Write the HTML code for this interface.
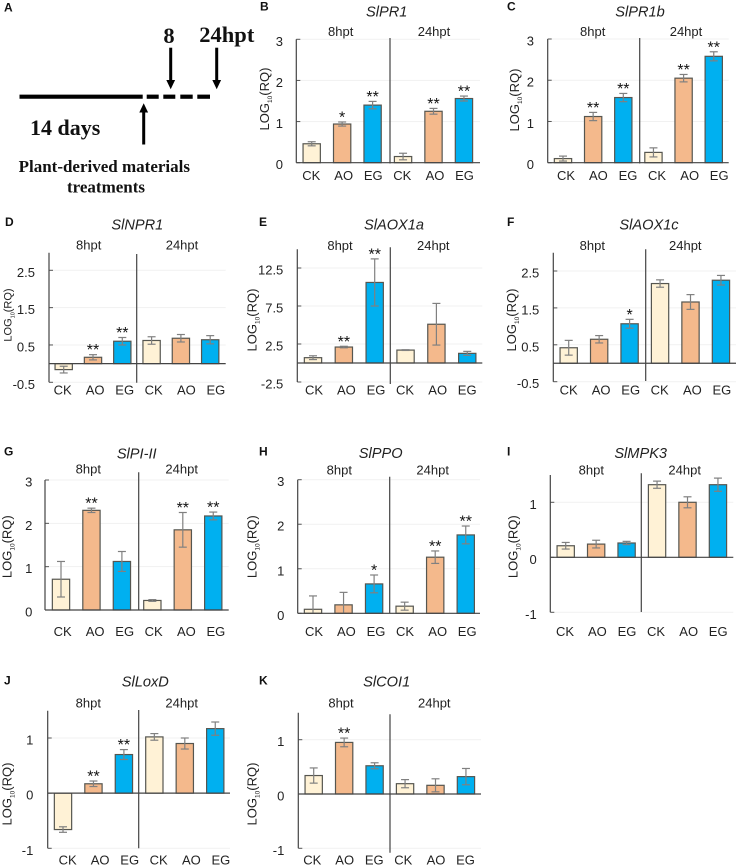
<!DOCTYPE html>
<html lang="en">
<head>
<meta charset="utf-8">
<title>Relative expression of defense genes after plant-derived material treatments</title>
<style>
  html, body { margin: 0; padding: 0; background: #ffffff; }
  svg { display: block; }
  text { font-family: "Liberation Sans", Arial, sans-serif; fill: #222222; }
  .serif { font-family: "Liberation Serif", "Times New Roman", serif; font-weight: bold; fill: #111111; }
  .letter { font-weight: bold; font-size: 12px; fill: #111111; }
  .title { font-style: italic; font-size: 14.6px; text-anchor: middle; }
  .hpt { font-size: 13px; text-anchor: middle; }
  .xlab { font-size: 13px; text-anchor: middle; }
  .ytick { font-size: 13px; text-anchor: end; }
  .ylab { text-anchor: middle; }
  .stars { font-size: 16px; text-anchor: middle; fill: #111111; }
</style>
</head>
<body>
<svg id="figure" xmlns="http://www.w3.org/2000/svg" width="738" height="866" viewBox="0 0 738 866">
  <rect x="0" y="0" width="738" height="866" fill="#ffffff"/>

  <g>
    <text class="letter" x="4" y="11.5">A</text>
    <line x1="19.5" y1="96.7" x2="142.7" y2="96.7" stroke="#000" stroke-width="4.2"/>
    <line x1="146.7" y1="96.7" x2="158.7" y2="96.7" stroke="#000" stroke-width="4.2"/>
    <line x1="163.3" y1="96.7" x2="175.3" y2="96.7" stroke="#000" stroke-width="4.2"/>
    <line x1="180.3" y1="96.7" x2="192.7" y2="96.7" stroke="#000" stroke-width="4.2"/>
    <line x1="197.3" y1="96.7" x2="210" y2="96.7" stroke="#000" stroke-width="4.2"/>
    <g>
      <line x1="170.7" y1="47.7" x2="170.7" y2="82" stroke="#000" stroke-width="3"/>
      <polygon points="166.3,80 175.1,80 170.7,89.3" fill="#000"/>
    </g>
    <g>
      <line x1="216.7" y1="47.7" x2="216.7" y2="82" stroke="#000" stroke-width="3"/>
      <polygon points="212.3,80 221.1,80 216.7,89.3" fill="#000"/>
    </g>
    <g>
      <line x1="143.7" y1="111" x2="143.7" y2="144.5" stroke="#000" stroke-width="3"/>
      <polygon points="139.3,112.5 148.1,112.5 143.7,103.3" fill="#000"/>
    </g>
    <text class="serif" x="169" y="43" font-size="22.5" text-anchor="middle">8</text>
    <text class="serif" x="199.3" y="42" font-size="22.5">24hpt</text>
    <text class="serif" x="30" y="135" font-size="22">14 days</text>
    <text class="serif" x="104.3" y="172" font-size="17" text-anchor="middle">Plant-derived materials</text>
    <text class="serif" x="106" y="192.3" font-size="17" text-anchor="middle">treatments</text>
  </g>

  <g id="panel-b"></g>
  <g id="panel-c"></g>
  <g id="panel-d"></g>
  <g id="panel-e"></g>
  <g id="panel-f"></g>
  <g id="panel-g"></g>
  <g id="panel-h"></g>
  <g id="panel-i"></g>
  <g id="panel-j"></g>
  <g id="panel-k"></g>
</svg>

<script>
// ---- chart data ----
const categories = ['CK', 'AO', 'EG', 'CK', 'AO', 'EG'];
const timeGroups = ['8hpt', '24hpt'];

const valuesB = [0.46, 0.94, 1.40, 0.15, 1.25, 1.56];
const errorsB = [0.05, 0.05, 0.09, 0.08, 0.07, 0.06];
const starsB = ['', '*', '**', '', '**', '**'];
const ticksB = [0, 1, 2, 3];

const valuesC = [0.10, 1.12, 1.58, 0.25, 2.05, 2.58];
const errorsC = [0.06, 0.10, 0.10, 0.11, 0.09, 0.11];
const starsC = ['', '**', '**', '', '**', '**'];
const ticksC = [0, 1, 2, 3];

const valuesD = [-0.16, 0.17, 0.60, 0.62, 0.68, 0.64];
const errorsD = [0.09, 0.07, 0.10, 0.10, 0.10, 0.11];
const starsD = ['', '**', '**', '', '', ''];
const ticksD = [-0.5, 0.5, 1.5, 2.5];

const valuesE = [0.70, 2.10, 10.6, 1.70, 5.10, 1.27];
const errorsE = [0.25, 0.10, 3.10, 0.05, 2.74, 0.26];
const starsE = ['', '**', '**', '', '', ''];
const ticksE = [-2.5, 2.5, 7.5, 12.5];

const valuesF = [0.42, 0.65, 1.07, 2.16, 1.66, 2.25];
const errorsF = [0.20, 0.10, 0.12, 0.10, 0.20, 0.13];
const starsF = ['', '', '*', '', '', ''];
const ticksF = [-0.5, 0.5, 1.5, 2.5];

const valuesG = [0.71, 2.30, 1.12, 0.22, 1.85, 2.17];
const errorsG = [0.41, 0.05, 0.23, 0.02, 0.40, 0.09];
const starsG = ['', '**', '', '', '**', '**'];
const ticksG = [0, 1, 2, 3];

const valuesH = [0.09, 0.19, 0.66, 0.16, 1.26, 1.76];
const errorsH = [0.30, 0.28, 0.20, 0.09, 0.14, 0.20];
const starsH = ['', '', '*', '', '**', '**'];
const ticksH = [0, 1, 2, 3];

const valuesI = [0.21, 0.24, 0.26, 1.32, 1.00, 1.32];
const errorsI = [0.06, 0.07, 0.03, 0.065, 0.10, 0.12];
const starsI = ['', '', '', '', '', ''];
const ticksI = [-1, 0, 1];

const valuesJ = [-0.66, 0.17, 0.70, 1.02, 0.90, 1.17];
const errorsJ = [0.05, 0.05, 0.09, 0.06, 0.10, 0.12];
const starsJ = ['', '**', '**', '', '', ''];
const ticksJ = [-1, 0, 1];

const valuesK = [0.34, 0.95, 0.52, 0.19, 0.16, 0.32];
const errorsK = [0.14, 0.08, 0.055, 0.075, 0.12, 0.15];
const starsK = ['', '**', '', '', '', ''];
const ticksK = [-1, 0, 1];

const groupColors = ['#fff2d6', '#f4b98c', '#00b0f0', '#fff2d6', '#f4b98c', '#00b0f0'];
const labelOffsets = [0, 32.4, 62, 91, 123.7, 153.2];

// ---- panel layouts (pixel geometry lives here, values above) ----
const panels = [
  { id: 'panel-b', letter: 'B', gene: 'SlPR1', values: valuesB, errors: errorsB, stars: starsB, ticks: ticksB,
    letterX: 260, letterY: 10.5, titleX: 386.7, titleY: 16.7, hptY: 36, hpt8X: 340.7, hpt24X: 434,
    axisX: 296.3, axisTop: 39.3, axisBottom: 162.7, pxLow: 162.7, pxHigh: 39.3, right: 480,
    divX: 390, divTop: 38, divBottom: 163.5, barX: 311.7, barStep: 30.45,
    labelX: 311.3, labelY: 180, tickX: 283, ylabelX: 269, ylabelY: 99, ylabelSize: 13 },
  { id: 'panel-c', letter: 'C', gene: 'SlPR1b', values: valuesC, errors: errorsC, stars: starsC, ticks: ticksC,
    letterX: 507, letterY: 10.5, titleX: 640, titleY: 16.7, hptY: 36, hpt8X: 592.7, hpt24X: 686,
    axisX: 547.7, axisTop: 39, axisBottom: 162.7, pxLow: 162.7, pxHigh: 39, right: 728.7,
    divX: 639.7, divTop: 38, divBottom: 163.5, barX: 563, barStep: 30.15,
    labelX: 566, labelY: 180, tickX: 534, ylabelX: 519, ylabelY: 100, ylabelSize: 13 },
  { id: 'panel-d', letter: 'D', gene: 'SlNPR1', values: valuesD, errors: errorsD, stars: starsD, ticks: ticksD,
    letterX: 5, letterY: 226, titleX: 137.3, titleY: 229.3, hptY: 249.3, hpt8X: 88.7, hpt24X: 182,
    axisX: 49, axisTop: 252.7, axisBottom: 382.3, pxLow: 382.3, pxHigh: 270.3, right: 225.7,
    divX: 136.7, divTop: 254, divBottom: 382.7, barX: 63.7, barStep: 29.3,
    labelX: 62.7, labelY: 394.3, tickX: 35, ylabelX: 11.5, ylabelY: 315, ylabelSize: 11 },
  { id: 'panel-e', letter: 'E', gene: 'SlAOX1a', values: valuesE, errors: errorsE, stars: starsE, ticks: ticksE,
    letterX: 259, letterY: 226, titleX: 394, titleY: 229.5, hptY: 250, hpt8X: 340, hpt24X: 433.3,
    axisX: 297.3, axisTop: 249.3, axisBottom: 382, pxLow: 382, pxHigh: 268, right: 482.3,
    divX: 390.3, divTop: 247.3, divBottom: 384, barX: 313, barStep: 30.85,
    labelX: 314, labelY: 394.3, tickX: 283.3, ylabelX: 256.5, ylabelY: 320, ylabelSize: 13 },
  { id: 'panel-f', letter: 'F', gene: 'SlAOX1c', values: valuesF, errors: errorsF, stars: starsF, ticks: ticksF,
    letterX: 507, letterY: 226, titleX: 649, titleY: 229.5, hptY: 250, hpt8X: 592.3, hpt24X: 685.3,
    axisX: 553.3, axisTop: 252.7, axisBottom: 381.7, pxLow: 381.7, pxHigh: 271, right: 736,
    divX: 645.7, divTop: 249.3, divBottom: 381, barX: 568.7, barStep: 30.45,
    labelX: 568.7, labelY: 394.3, tickX: 539.3, ylabelX: 516, ylabelY: 320, ylabelSize: 13 },
  { id: 'panel-g', letter: 'G', gene: 'SlPI-II', values: valuesG, errors: errorsG, stars: starsG, ticks: ticksG,
    letterX: 4, letterY: 455.3, titleX: 136.7, titleY: 458.3, hptY: 473.7, hpt8X: 88.3, hpt24X: 181.7,
    axisX: 45, axisTop: 480, axisBottom: 610, pxLow: 610, pxHigh: 480, right: 228.7,
    divX: 138.7, divTop: 472.3, divBottom: 610, barX: 61, barStep: 30.45,
    labelX: 62.7, labelY: 636, tickX: 32.3, ylabelX: 11.5, ylabelY: 546.7, ylabelSize: 13 },
  { id: 'panel-h', letter: 'H', gene: 'SlPPO', values: valuesH, errors: errorsH, stars: starsH, ticks: ticksH,
    letterX: 259, letterY: 455.3, titleX: 380.7, titleY: 458, hptY: 474.7, hpt8X: 339.3, hpt24X: 432.7,
    axisX: 297.7, axisTop: 479.7, axisBottom: 613.3, pxLow: 613.3, pxHigh: 479.7, right: 480,
    divX: 389.7, divTop: 476.7, divBottom: 613.3, barX: 313, barStep: 30.55,
    labelX: 314, labelY: 636, tickX: 284.3, ylabelX: 256.5, ylabelY: 546.7, ylabelSize: 13 },
  { id: 'panel-i', letter: 'I', gene: 'SlMPK3', values: valuesI, errors: errorsI, stars: starsI, ticks: ticksI,
    letterX: 507, letterY: 455.3, titleX: 640.7, titleY: 458, hptY: 474.7, hpt8X: 591.3, hpt24X: 684.7,
    axisX: 550.3, axisTop: 475, axisBottom: 612.3, pxLow: 612.3, pxHigh: 502.3, right: 733.3,
    divX: 641.3, divTop: 473.3, divBottom: 612, barX: 565.7, barStep: 30.45,
    labelX: 565, labelY: 636, tickX: 536.7, ylabelX: 517.5, ylabelY: 546.7, ylabelSize: 13 },
  { id: 'panel-j', letter: 'J', gene: 'SlLoxD', values: valuesJ, errors: errorsJ, stars: starsJ, ticks: ticksJ,
    letterX: 4, letterY: 684.3, titleX: 145.3, titleY: 686.7, hptY: 707.7, hpt8X: 88.3, hpt24X: 181.7,
    axisX: 47.7, axisTop: 710.7, axisBottom: 848.3, pxLow: 848.3, pxHigh: 738, right: 230,
    divX: 138.7, divTop: 710, divBottom: 848.3, barX: 63, barStep: 30.45,
    labelX: 67.7, labelY: 864.7, tickX: 33.3, ylabelX: 11.5, ylabelY: 794, ylabelSize: 13 },
  { id: 'panel-k', letter: 'K', gene: 'SlCOI1', values: valuesK, errors: errorsK, stars: starsK, ticks: ticksK,
    letterX: 259, letterY: 684.3, titleX: 386.7, titleY: 686.7, hptY: 707.7, hpt8X: 341, hpt24X: 434.3,
    axisX: 298.3, axisTop: 712.7, axisBottom: 848.3, pxLow: 848.3, pxHigh: 739.7, right: 481,
    divX: 390, divTop: 714.3, divBottom: 852.7, barX: 313.7, barStep: 30.45,
    labelX: 312.3, labelY: 864.7, tickX: 284.3, ylabelX: 256.5, ylabelY: 794, ylabelSize: 13 }
];

// ---- drawing ----
const NS = 'http://www.w3.org/2000/svg';
const BAR_WIDTH = 17.3;
const CAP = 4;

function make(tag, parent, geometry) {
  const node = document.createElementNS(NS, tag);
  for (const key in geometry) node.setAttribute(key, geometry[key]);
  parent.appendChild(node);
  return node;
}

function yScale(p) {
  const low = p.ticks[0];
  const high = p.ticks[p.ticks.length - 1];
  return function (v) {
    return p.pxLow + (v - low) / (high - low) * (p.pxHigh - p.pxLow);
  };
}

function xScale(p) {
  return function (i) {
    return p.barX + i * p.barStep;
  };
}

function drawPanel(p) {
  const g = document.getElementById(p.id);
  const y = yScale(p);
  const x = xScale(p);
  const zero = y(0);

  const letter = make('text', g, { x: p.letterX, y: p.letterY, class: 'letter' });
  letter.textContent = p.letter;
  
  

  const title = make('text', g, { x: p.titleX, y: p.titleY, class: 'title' });
  title.textContent = p.gene;
  
  

  const hpt8 = make('text', g, { x: p.hpt8X, y: p.hptY, class: 'hpt' });
  hpt8.textContent = timeGroups[0];
  
  

  const hpt24 = make('text', g, { x: p.hpt24X, y: p.hptY, class: 'hpt' });
  hpt24.textContent = timeGroups[1];
  
  

  p.ticks.forEach(function (t) {
    const grid = make('line', g, { x1: p.axisX, x2: p.right, y1: y(t), y2: y(t), stroke: '#f1f1f1', 'stroke-width': 1 });
    
    

    const mark = make('line', g, { x1: p.axisX, x2: p.axisX + 4, y1: y(t), y2: y(t), stroke: '#555555', 'stroke-width': 1 });
    
    

    const lab = make('text', g, { x: p.tickX, y: y(t) + 6.5, class: 'ytick' });
    lab.textContent = String(t);
    
    
  });

  const yTitle = make('text', g, { x: p.ylabelX, y: p.ylabelY, class: 'ylab', 'font-size': p.ylabelSize, transform: 'rotate(-90 ' + p.ylabelX + ' ' + p.ylabelY + ')' });
  
  
  const t1 = make('tspan', yTitle, {});
  t1.textContent = 'LOG';
  const t2 = make('tspan', yTitle, { dy: 3, 'font-size': p.ylabelSize / 2 });
  t2.textContent = '10';
  const t3 = make('tspan', yTitle, { dy: -3 });
  t3.textContent = '(RQ)';

  p.values.forEach(function (v, i) {
    const cx = x(i);
    const top = Math.min(y(v), zero);
    const bar = make('rect', g, { x: cx - BAR_WIDTH / 2, y: top, width: BAR_WIDTH, height: Math.abs(zero - y(v)), fill: groupColors[i], stroke: '#565650', 'stroke-width': 1.2 });
    
    
  });

  p.values.forEach(function (v, i) {
    const cx = x(i);
    const e = p.errors[i];
    const clipped = v > 0 && v - e < 0;
    const hi = y(v + e);
    const lo = clipped ? zero : y(v - e);

    const whisker = make('line', g, { x1: cx, x2: cx, y1: hi, y2: lo, stroke: '#808080', 'stroke-width': 1.2 });
    
    

    const capHi = make('line', g, { x1: cx - CAP, x2: cx + CAP, y1: hi, y2: hi, stroke: '#808080', 'stroke-width': 1.2 });
    
    

    if (!clipped) {
      const capLo = make('line', g, { x1: cx - CAP, x2: cx + CAP, y1: lo, y2: lo, stroke: '#808080', 'stroke-width': 1.2 });
      
      
    }

    if (p.stars[i]) {
      const star = make('text', g, { x: cx, y: hi + 0.5, class: 'stars' });
      star.textContent = p.stars[i];
      
      
    }

    const xLab = make('text', g, { x: p.labelX + labelOffsets[i], y: p.labelY, class: 'xlab' });
    xLab.textContent = categories[i];
    
    
  });

  const yAxis = make('line', g, { x1: p.axisX, x2: p.axisX, y1: p.axisTop, y2: p.axisBottom, stroke: '#444444', 'stroke-width': 1.2 });
  
  

  const xAxis = make('line', g, { x1: p.axisX, x2: p.right, y1: zero, y2: zero, stroke: '#444444', 'stroke-width': 1.2 });
  
  

  const divider = make('line', g, { x1: p.divX, x2: p.divX, y1: p.divTop, y2: p.divBottom, stroke: '#444444', 'stroke-width': 1.2 });
  
  
}

panels.forEach(drawPanel);
</script>
</body>
</html>
